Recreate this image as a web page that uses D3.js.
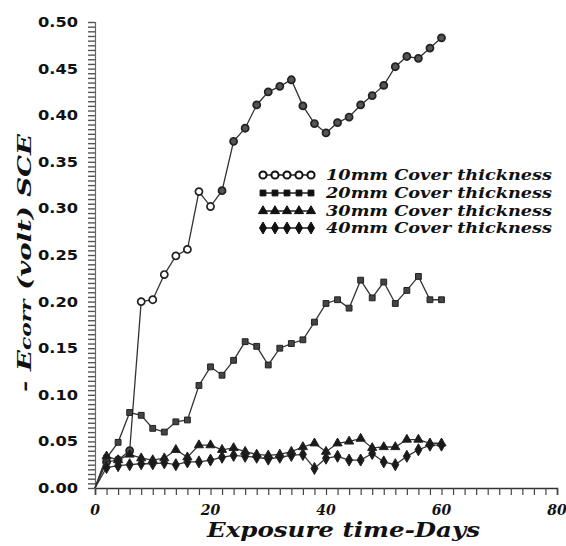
<!DOCTYPE html>
<html>
<head>
<meta charset="utf-8">
<script src="https://cdn.jsdelivr.net/npm/d3@7/dist/d3.min.js"></script>
<style>
    body { margin: 0; background: #fff; }
    svg { display: block; }
</style>
</head>
<body>
<svg id="chart"></svg>
<script>
// exposure days (x) and Ecorr readings (volt, SCE) for each cover thickness
const days = [0, 2, 4, 6, 8, 10, 12, 14, 16, 18, 20, 22, 24, 26, 28, 30,
    32, 34, 36, 38, 40, 42, 44, 46, 48, 50, 52, 54, 56, 58, 60];

const cover10 = [0, 0.028, 0.030, 0.040, 0.200, 0.202, 0.229, 0.249, 0.256, 0.318, 0.302,
    0.319, 0.372, 0.386, 0.411, 0.425, 0.431, 0.438, 0.410, 0.391, 0.381,
    0.392, 0.398, 0.411, 0.421, 0.432, 0.452, 0.463, 0.461, 0.472, 0.483];

const cover20 = [0, 0.032, 0.049, 0.081, 0.078, 0.064, 0.060, 0.071, 0.073, 0.110, 0.130,
    0.121, 0.137, 0.157, 0.152, 0.132, 0.150, 0.155, 0.159, 0.178, 0.198,
    0.202, 0.193, 0.223, 0.204, 0.221, 0.198, 0.212, 0.227, 0.202, 0.202];

const cover30 = [0, 0.034, 0.030, 0.036, 0.032, 0.030, 0.032, 0.041, 0.033, 0.046, 0.046,
    0.041, 0.043, 0.039, 0.036, 0.035, 0.036, 0.039, 0.044, 0.048, 0.039,
    0.048, 0.050, 0.053, 0.043, 0.044, 0.044, 0.052, 0.052, 0.048, 0.048];

const cover40 = [0, 0.022, 0.024, 0.025, 0.026, 0.026, 0.027, 0.025, 0.028, 0.028, 0.030,
    0.033, 0.035, 0.034, 0.033, 0.031, 0.033, 0.035, 0.036, 0.021, 0.032,
    0.034, 0.030, 0.030, 0.037, 0.028, 0.025, 0.034, 0.041, 0.046, 0.046];

const seriesNames = ["10mm Cover thickness", "20mm Cover thickness",
    "30mm Cover thickness", "40mm Cover thickness"];

const xTickLabels = [0, 20, 40, 60, 80];
const yTickLabels = ["0.00", "0.05", "0.10", "0.15", "0.20", "0.25",
    "0.30", "0.35", "0.40", "0.45", "0.50"];

const xTitle = "Exposure time-Days";

var w = 566;
var h = 546;
var ink = "#222";
var serif = "'DejaVu Serif', serif";

var xScale = d3.scaleLinear()
    .domain([0, 80])
    .range([95, 557]);

var yScale = d3.scaleLinear()
    .domain([0, 0.5])
    .range([488, 22]);

var svg = d3.select("#chart")
    .attr("width", w)
    .attr("height", h);

svg.append("rect")
    .attr("width", w)
    .attr("height", h)
    .attr("fill", "#fff");

// axes: minor ticks only, labels drawn separately
let xAxis = g => g
    .attr("transform", `translate(0,${yScale(0)})`)
    .call(d3.axisBottom(xScale).tickValues(d3.range(0, 81, 2)).tickSize(7).tickFormat(""))
    .call(g => g.selectAll("line").attr("stroke", "#444").attr("stroke-width", 1.2))
    .call(g => g.select(".domain").attr("stroke", "#333").attr("stroke-width", 1.6));

let yAxis = g => g
    .attr("transform", `translate(${xScale(0)},0)`)
    .call(d3.axisLeft(yScale).tickValues(d3.range(0, 0.5001, 0.005)).tickSize(7).tickFormat(""))
    .call(g => g.selectAll("line").attr("stroke", "#555").attr("stroke-width", 1.4))
    .call(g => g.select(".domain").attr("stroke", "#666").attr("stroke-width", 1.2));

svg.append("g").call(xAxis);
svg.append("g").call(yAxis);

svg.append("g")
    .selectAll("text")
    .data(yTickLabels)
    .join("text")
    .attr("x", 78)
    .attr("y", d => yScale(+d) + 5)
    .attr("text-anchor", "end")
    .attr("textLength", 40)
    .attr("lengthAdjust", "spacingAndGlyphs")
    .style("font-family", "'DejaVu Sans', sans-serif")
    .style("font-weight", "bold")
    .style("font-size", "14px")
    .attr("fill", "#111")
    .text(d => d);

svg.append("g")
    .selectAll("text")
    .data(xTickLabels)
    .join("text")
    .attr("x", d => xScale(d))
    .attr("y", 515)
    .attr("text-anchor", "middle")
    .style("font-family", serif)
    .style("font-weight", "bold")
    .style("font-style", "italic")
    .style("font-size", "14px")
    .attr("fill", "#111")
    .text(d => d);

svg.append("text")
    .attr("x", 207)
    .attr("y", 537)
    .attr("textLength", 273)
    .attr("lengthAdjust", "spacingAndGlyphs")
    .style("font-family", serif)
    .style("font-weight", "bold")
    .style("font-style", "italic")
    .style("font-size", "20px")
    .attr("fill", "#111")
    .text(xTitle);

var yTitle = svg.append("text")
    .attr("transform", "translate(31,392) rotate(-90)")
    .attr("textLength", 258)
    .attr("lengthAdjust", "spacingAndGlyphs")
    .style("font-family", serif)
    .style("font-weight", "bold")
    .style("font-style", "italic")
    .style("font-size", "19px")
    .attr("fill", "#111");
yTitle.append("tspan").text("- E");
yTitle.append("tspan").style("font-size", "15px").text("corr");
yTitle.append("tspan").text(" (volt) SCE");

// series
const seriesData = [cover10, cover20, cover30, cover40];
const symbols = [d3.symbolCircle, d3.symbolSquare, d3.symbolTriangle, d3.symbolDiamond];
const symbolSizes = [40, 34, 36, 42];

var line = d3.line()
    .x(d => xScale(d[0]))
    .y(d => yScale(d[1]));

seriesData.forEach((values, i) => {
    let pts = days.map((day, j) => [day, values[j]]);

    svg.append("path")
        .datum(pts)
        .attr("d", line)
        .attr("fill", "none")
        .attr("stroke", "#333")
        .attr("stroke-width", 1.3);

    svg.append("g")
        .selectAll("path")
        .data(pts.slice(1))
        .join("path")
        .attr("transform", d => `translate(${xScale(d[0])},${yScale(d[1])})`)
        .attr("d", d3.symbol().type(symbols[i]).size(symbolSizes[i]))
        .attr("fill", d => {
            if (i === 0) {
                return (d[0] >= 8 && d[0] <= 20) ? "#fff" : "#555";
            }
            return i === 1 ? "#444" : "#1a1a1a";
        })
        .attr("stroke", ink)
        .attr("stroke-width", i === 0 ? 1.7 : 1);
});

// legend
const legendY = [175, 193, 211, 228];
var legend = svg.append("g");

seriesNames.forEach((name, i) => {
    let y = legendY[i];
    legend.append("line")
        .attr("x1", 262)
        .attr("x2", 312)
        .attr("y1", y)
        .attr("y2", y)
        .attr("stroke", ink)
        .attr("stroke-width", 1.5);

    legend.append("g")
        .selectAll("path")
        .data([0, 1, 2, 3, 4])
        .join("path")
        .attr("transform", k => `translate(${263 + k * 12},${y})`)
        .attr("d", d3.symbol().type(symbols[i]).size(symbolSizes[i]))
        .attr("fill", i === 0 ? "#fff" : "#111")
        .attr("stroke", "#111")
        .attr("stroke-width", i === 0 ? 2 : 1);

    legend.append("text")
        .attr("x", 326)
        .attr("y", y + 5)
        .attr("textLength", 226)
        .attr("lengthAdjust", "spacingAndGlyphs")
        .style("font-family", serif)
        .style("font-weight", "bold")
        .style("font-style", "italic")
        .style("font-size", "14px")
        .attr("fill", "#111")
        .text(name);
});
</script>
</body>
</html>
